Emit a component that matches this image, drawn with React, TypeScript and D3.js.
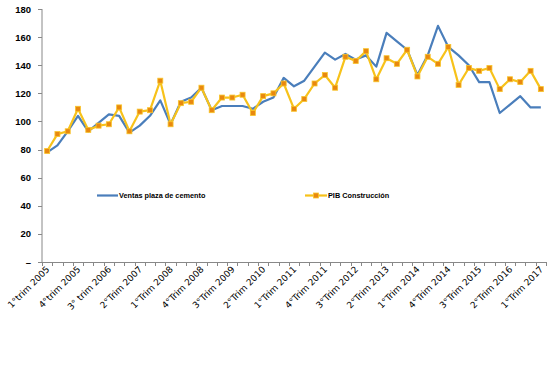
import React, { useEffect, useRef } from 'react';
import * as d3 from 'd3';

const quarters: string[] = [];
const years = [2005, 2006, 2007, 2008, 2009, 2010, 2011, 2012, 2013, 2014, 2015, 2016, 2017];
years.forEach(y => [1, 2, 3, 4].forEach(q => quarters.push(`${q}-${y}`)));
const categories = quarters.slice(0, 49);

// shown every third quarter
const tickLabels = [
  '1°trim 2005', '4°trim 2005', '3° trim 2006', '2°Trim 2007', '1°Trim 2008', '4°Trim 2008',
  '3°Trim 2009', '2°Trim 2010', '1°Trim 2011', '4°Trim 2011', '3°Trim 2012', '2°Trim 2013',
  '1°Trim 2014', '4°Trim 2014', '3°Trim 2015', '2°Trim 2016', '1°Trim 2017',
];

const ventas = [
  78, 83, 93, 104, 93, 99, 105, 104, 92, 97, 104, 115, 98, 114, 117, 124, 108, 111, 111, 111,
  109, 114, 117, 131, 125, 129, 139, 149, 144, 148, 144, 147, 139, 163, 157, 151, 133, 147, 168, 153,
  147, 140, 128, 128, 106, 112, 118, 110, 110,
];

const pib = [
  79, 91, 93, 109, 94, 97, 98, 110, 93, 107, 108, 129, 98, 113, 114, 124, 108, 117, 117, 119,
  106, 118, 120, 127, 109, 116, 127, 133, 124, 146, 143, 150, 130, 145, 141, 151, 132, 146, 141, 153,
  126, 138, 136, 138, 123, 130, 128, 136, 123,
];

const yTicks = [0, 20, 40, 60, 80, 100, 120, 140, 160, 180];

export default function App() {
  const svgRef = useRef<SVGSVGElement>(null);

  useEffect(() => {
    if (!svgRef.current) return;
    const svg = d3.select(svgRef.current);
    svg.selectAll('*').remove();

    const left = 42, right = 546, top = 9, bottom = 262;

    const x = d3.scaleBand().domain(categories).range([left, right]);
    const y = d3.scaleLinear().domain([0, 180]).range([bottom, top]);
    const cx = (i: number) => (x(categories[i]) || 0) + x.bandwidth() / 2;

    // Y axis
    svg.append('line')
      .attr('x1', left).attr('x2', left).attr('y1', top).attr('y2', bottom)
      .attr('stroke', '#888').attr('stroke-width', 1);
    svg.selectAll('.ytick').data(yTicks).enter().append('line')
      .attr('x1', left - 4).attr('x2', left)
      .attr('y1', d => Math.round(y(d)) + 0.5).attr('y2', d => Math.round(y(d)) + 0.5)
      .attr('stroke', '#888');
    svg.selectAll('.ylab').data(yTicks).enter().append('text')
      .attr('x', 31).attr('y', d => y(d) + 3.5)
      .attr('text-anchor', 'end')
      .style('font-family', 'Liberation Sans, Arial, sans-serif')
      .style('font-size', '9.5px').style('font-weight', 'bold')
      .text(d => (d === 0 ? '–' : String(d)));

    // X axis
    svg.append('line')
      .attr('x1', left).attr('x2', right).attr('y1', bottom + 0.5).attr('y2', bottom + 0.5)
      .attr('stroke', '#888');
    const bounds = categories.map(c => x(c) || 0).concat([right]);
    svg.selectAll('.xtick').data(bounds).enter().append('line')
      .attr('x1', d => Math.round(d) + 0.5).attr('x2', d => Math.round(d) + 0.5)
      .attr('y1', bottom).attr('y2', bottom + 4)
      .attr('stroke', '#888');
    svg.selectAll('.xlab').data(tickLabels).enter().append('text')
      .attr('transform', (d, i) => `translate(${cx(i * 3) + 3},${bottom + 8}) rotate(-45)`)
      .attr('text-anchor', 'end')
      .style('font-family', 'DejaVu Sans, Verdana, sans-serif')
      .style('font-size', '9px')
      .text(d => d);

    const line = d3.line<number>().x((d, i) => cx(i)).y(d => y(d));

    svg.append('path').datum(ventas).attr('d', line)
      .attr('fill', 'none').attr('stroke', '#4a7ebb').attr('stroke-width', 2.2)
      .attr('stroke-linejoin', 'round');

    svg.append('path').datum(pib).attr('d', line)
      .attr('fill', 'none').attr('stroke', '#f7c21a').attr('stroke-width', 2.2)
      .attr('stroke-linejoin', 'round');

    svg.selectAll('.mk').data(pib).enter().append('rect')
      .attr('x', (d, i) => cx(i) - 2.5).attr('y', d => y(d) - 2.5)
      .attr('width', 5).attr('height', 5)
      .attr('fill', '#e8880f').attr('stroke', '#f9c52a').attr('stroke-width', 0.8);

    // Legend
    const lg = svg.append('g').style('font-family', 'Liberation Sans, Arial, sans-serif')
      .style('font-weight', 'bold');
    lg.append('line').attr('x1', 97).attr('x2', 118).attr('y1', 195.5).attr('y2', 195.5)
      .attr('stroke', '#4a7ebb').attr('stroke-width', 2.2);
    lg.append('text').attr('x', 119).attr('y', 198).style('font-size', '7.3px')
      .text('Ventas plaza de cemento');
    lg.append('line').attr('x1', 305).attr('x2', 327).attr('y1', 195.5).attr('y2', 195.5)
      .attr('stroke', '#f7c21a').attr('stroke-width', 2.2);
    lg.append('rect').attr('x', 313.5).attr('y', 193).attr('width', 5).attr('height', 5)
      .attr('fill', '#e8880f').attr('stroke', '#f9c52a').attr('stroke-width', 0.8);
    lg.append('text').attr('x', 328).attr('y', 198).style('font-size', '7.3px')
      .text('PIB Construcción');
  }, []);

  return (
    <div style={{ position: 'absolute', left: 0, top: 0, width: 557, height: 384, background: '#fff' }}>
      <svg ref={svgRef} width={557} height={384} />
    </div>
  );
}
